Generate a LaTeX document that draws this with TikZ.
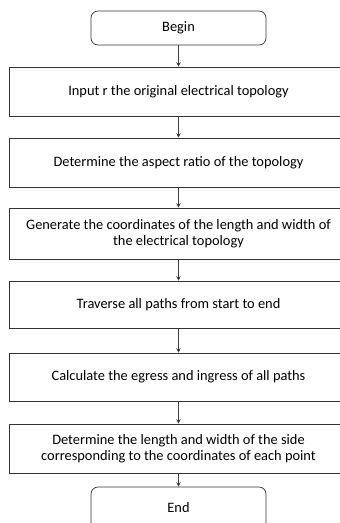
\documentclass[tikz,border=0pt]{standalone}
\usepackage{fontspec}
\setmainfont{Carlito}
\usepackage{tikz}
\usetikzlibrary{arrows.meta}

\begin{document}
\begin{tikzpicture}[x=1pt,y=-1pt,
        terminal/.style={shape=rectangle,rounded corners=7pt,draw=black!80,line width=0.7pt,minimum width=175pt,minimum height=34pt,font=\fontsize{14.4}{16}\selectfont},
        stepbox/.style={shape=rectangle,draw=black!80,line width=0.7pt,minimum width=339pt,minimum height=49pt,align=center,font=\fontsize{14.4}{16}\selectfont},
        flow/.style={-{Stealth[length=4.5pt,width=4.5pt]},draw=black!75,line width=0.6pt}]
            \useasboundingbox (0,0) rectangle (340,523);

            \node[terminal] (begin) at (178.5,28) {Begin};

            \node[stepbox] (s1) at (178.5,91.5) {Input r the original electrical topology};
            \node[stepbox] (s2) at (178.5,162.5) {Determine the aspect ratio of the topology};
            \node[stepbox,minimum height=51pt] (s3) at (178.5,233.5) {Generate the coordinates of the length and width of\\the electrical topology};
            \node[stepbox,minimum height=47pt] (s4) at (178.5,304.5) {Traverse all paths from start to end};
            \node[stepbox,minimum height=48pt] (s5) at (178.5,377) {Calculate the egress and ingress of all paths};
            \node[stepbox] (s6) at (178.5,448.5) {Determine the length and width of the side\\corresponding to the coordinates of each point};

            \node[terminal,minimum height=42pt] (end) at (178.5,508) {End};

            \path [flow] (begin) edge node {} (s1);
            \path [flow] (s1) edge node {} (s2);
            \path [flow] (s2) edge node {} (s3);
            \path [flow] (s3) edge node {} (s4);
            \path [flow] (s4) edge node {} (s5);
            \path [flow] (s5) edge node {} (s6);
            \path [flow] (s6) edge node {} (end);
        \end{tikzpicture}
\end{document}
